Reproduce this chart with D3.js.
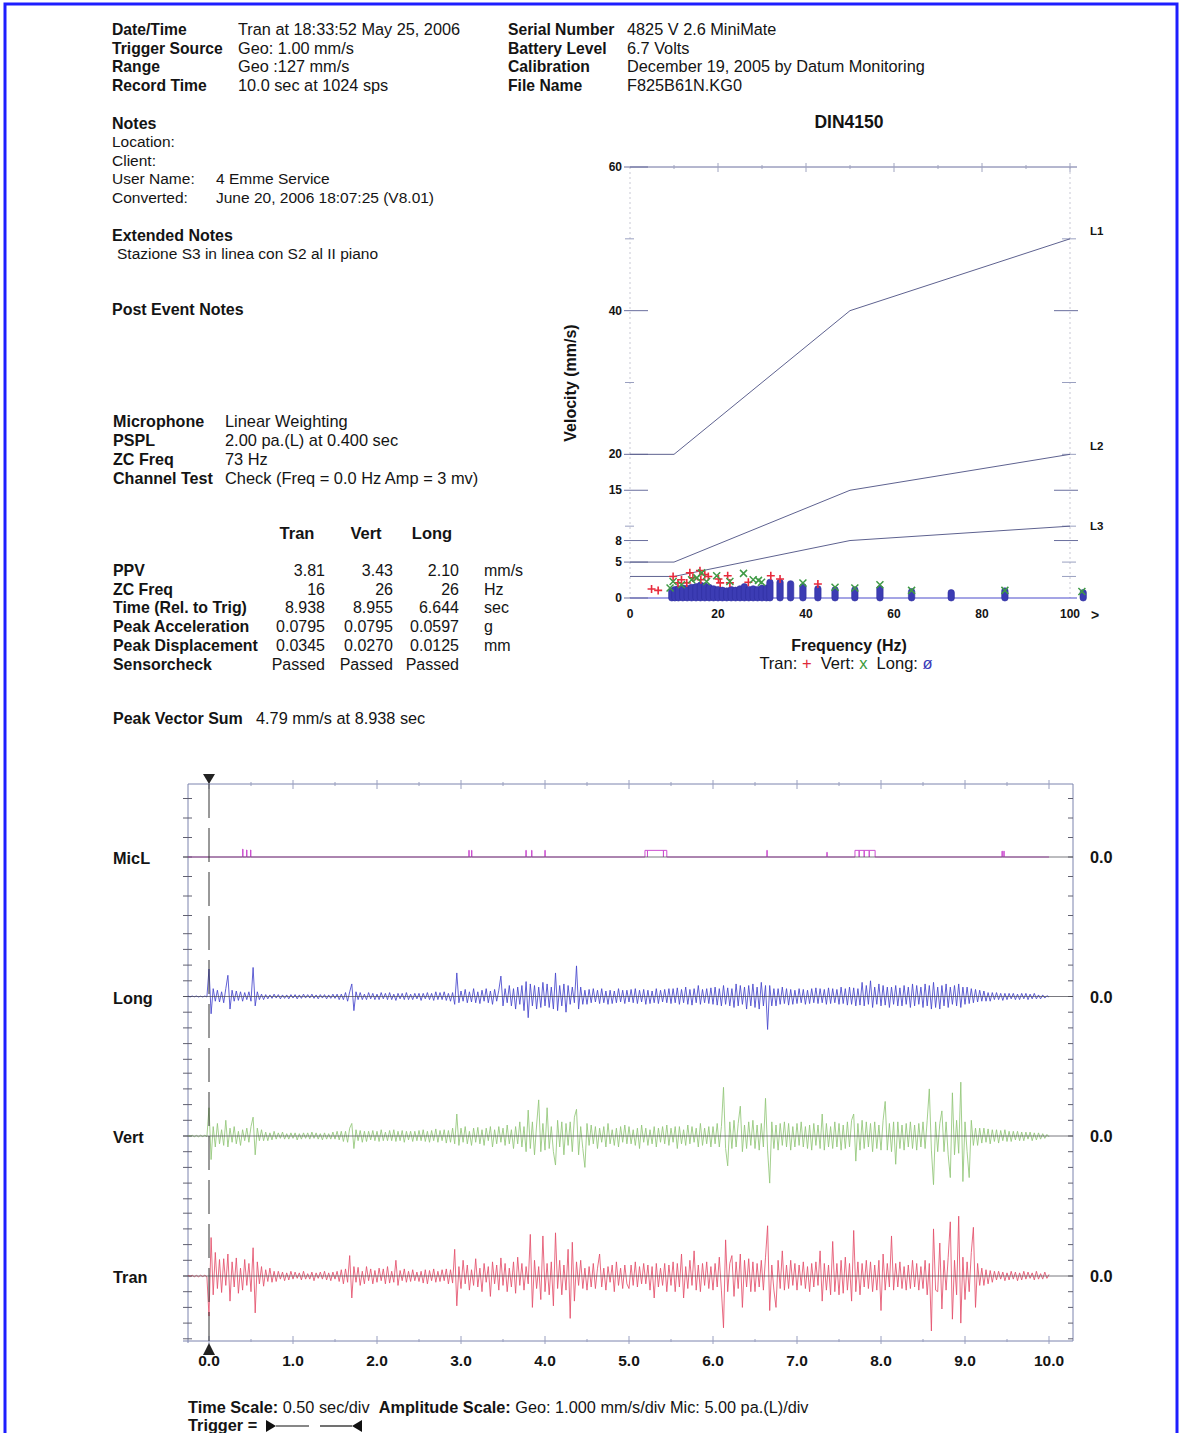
<!DOCTYPE html>
<html><head><meta charset="utf-8">
<script src="https://cdn.jsdelivr.net/npm/d3@7"></script>
<style>
body{margin:0;background:#fff}
svg{display:block}
text{font-family:"Liberation Sans",Arial,sans-serif}
</style>
</head><body>
<svg id="c" width="1180" height="1433"></svg>
<script>
// ---------------- DATA ----------------
const headerLeft = [
  ["Date/Time","Tran at 18:33:52 May 25, 2006"],
  ["Trigger Source","Geo: 1.00 mm/s"],
  ["Range","Geo :127 mm/s"],
  ["Record Time","10.0 sec at 1024 sps"]];
const headerRight = [
  ["Serial Number","4825 V 2.6 MiniMate"],
  ["Battery Level","6.7 Volts"],
  ["Calibration","December 19, 2005 by Datum Monitoring"],
  ["File Name","F825B61N.KG0"]];
const notesRows = [["Location:",""],["Client:",""],["User Name:","4 Emme Service"],["Converted:","June 20, 2006 18:07:25 (V8.01)"]];
const extendedNote = "Stazione S3 in linea con S2 al II piano";
const micInfo = [["Microphone","Linear Weighting"],["PSPL","2.00 pa.(L) at 0.400 sec"],["ZC Freq","73 Hz"],["Channel Test","Check (Freq = 0.0 Hz Amp = 3 mv)"]];
const statChannels = ["Tran","Vert","Long"];
const statRows = [
  ["PPV",["3.81","3.43","2.10"],"mm/s"],
  ["ZC Freq",["16","26","26"],"Hz"],
  ["Time (Rel. to Trig)",["8.938","8.955","6.644"],"sec"],
  ["Peak Acceleration",["0.0795","0.0795","0.0597"],"g"],
  ["Peak Displacement",["0.0345","0.0270","0.0125"],"mm"],
  ["Sensorcheck",["Passed","Passed","Passed"],""]];
const peakVectorSum = "4.79 mm/s at 8.938 sec";

// DIN4150 chart
const dinYLabels = [0,5,8,15,20,40,60];
const dinYMinor = [10,30,50];
const dinXLabels = [0,20,40,60,80,100];
const dinL1 = [[0,20],[10,20],[50,40],[100,50]];
const dinL2 = [[0,5],[10,5],[50,15],[100,20]];
const dinL3 = [[0,3],[10,3],[50,8],[100,10]];
const tranPts = [[4.9,1.25],[6.4,1.06],[9.8,3.0],[10.9,2.1],[11.7,2.55],[12.9,2.1],[13.6,3.5],[14.3,2.8],[15.9,3.81],[16.1,2.55],[17.0,3.25],[17.8,3.0],[20.1,2.65],[20.5,2.1],[22.2,3.1],[22.7,2.1],[26.9,2.2],[32.0,3.1],[34.1,2.65],[42.7,1.95]];
const vertPts = [[9.1,1.4],[9.8,2.3],[11.7,1.85],[14.0,2.55],[15.2,2.8],[16.3,3.5],[17.4,2.3],[19.7,3.1],[22.7,2.3],[25.8,3.43],[28.0,2.55],[29.2,2.45],[29.9,2.2],[39.3,2.1],[46.6,1.5],[51.1,1.4],[56.8,1.85],[64.0,1.06],[85.2,1.06],[102.7,0.9]];
const longCols = [[9.5,1.0],[10.2,1.2],[11,1.3],[12,1.4],[13,1.35],[14,1.5],[15,1.6],[16,1.8],[17,1.7],[18,1.5],[19,1.3],[20,1.2],[21,1.1],[22,1.0],[23,1.2],[24,1.1],[25,1.3],[26,1.6],[27,1.2],[28,1.3],[29,1.2],[30,1.4],[31,1.4],
  [31.8,2.2],[34.1,2.2],[36.5,2.0],[39.3,1.6],[42.7,1.3],[46.6,1.15],[51.1,1.15],[56.8,1.3],[64.0,0.9],[73.0,0.75],[85.2,1.0],[103.0,0.75]];

// Waveforms (mm/s), one sample every 0.025 s starting at -0.25 s
const waveT0 = -0.25, waveDt = 0.025;
const timeLabels = [0,1,2,3,4,5,6,7,8,9,10];
const tranWave = [
 0.05,-0.04,0.05,-0.05,0.04,-0.05,0.05,-0.04,0.05,-0.05,
 -2.55,2.45,-1.2,1.5,-0.8,1.05,-1.05,1.1,-0.6,1.4,-1.6,0.9,-0.7,1.15,-1.1,0.5,-0.9,1.05,-0.6,0.8,
 -1.0,1.8,-2.35,0.9,-0.5,0.6,-0.65,0.4,-0.35,0.5,-0.4,0.3,-0.35,0.3,-0.2,0.25,-0.3,0.2,-0.25,0.3,
 -0.2,0.25,-0.15,0.2,-0.25,0.3,-0.2,0.15,-0.2,0.25,-0.3,0.2,-0.15,0.25,-0.2,0.3,-0.25,0.2,-0.3,0.25,
 -0.2,0.3,-0.35,0.4,-0.5,0.45,-0.4,1.3,-1.4,0.6,-0.4,0.55,-0.6,0.3,-0.5,0.6,-0.3,0.45,-0.5,0.35,
 -0.4,0.5,-0.3,0.45,-0.5,0.6,-0.45,0.3,-0.4,1.0,-0.6,0.35,-0.3,0.45,-0.4,0.3,-0.35,0.4,-0.3,0.25,
 -0.35,0.3,-0.45,0.4,-0.5,0.35,-0.3,0.45,-0.4,0.3,-0.35,0.4,-0.3,0.45,-0.5,0.4,-0.45,1.7,-1.9,0.6,
 -0.8,1.0,-0.5,0.7,-0.9,0.4,-0.6,1.1,-0.7,0.5,-1.0,0.8,-0.4,0.6,-1.3,0.9,-0.5,0.7,-0.9,1.15,
 -0.6,0.8,-1.0,0.5,-0.7,0.9,-1.1,1.2,-0.6,0.8,-0.9,0.6,-0.5,2.65,-2.0,1.0,-0.8,0.6,-1.5,2.55,
 -1.0,0.8,-1.2,0.9,-1.9,2.75,-0.8,1.0,-1.2,0.7,-0.9,1.7,-2.7,2.15,-1.6,0.9,-0.6,1.0,-0.8,0.5,
 -0.9,0.6,-0.7,0.8,-0.8,0.5,1.4,-0.7,0.5,-0.9,0.6,-0.4,0.7,-1.0,0.9,-0.6,0.5,-0.8,0.7,-0.5,
 -0.8,0.7,-0.6,0.9,-0.7,0.6,-0.5,0.8,-0.5,0.7,-0.9,0.6,-1.4,0.8,-0.7,0.5,-0.6,0.8,-1.0,0.7,
 -0.6,0.9,-1.0,0.8,-0.7,1.4,-1.4,0.6,-0.8,1.0,-0.6,1.6,-0.9,0.7,-1.0,0.8,-0.6,0.9,-0.8,0.6,
 -0.9,0.8,-0.7,1.2,-0.9,-3.3,2.3,-1.0,0.8,1.3,-1.3,0.9,-0.8,1.4,-2.0,1.0,-0.7,1.1,-1.0,0.9,
 -1.0,0.8,-0.7,1.0,-0.9,1.2,3.2,-2.2,0.7,-0.9,-2.0,1.0,-0.8,1.6,-0.9,0.7,-0.8,1.0,-0.6,0.8,
 -0.9,0.7,-0.6,0.9,-0.8,0.6,-1.0,0.8,-0.7,0.9,-0.6,1.6,-1.6,0.8,-0.9,0.7,-1.2,2.2,-1.0,0.8,
 -1.2,1.0,-1.1,1.2,-0.9,0.8,-1.6,2.9,-1.0,0.9,-1.2,0.8,-0.7,1.0,-0.8,0.9,-1.0,0.7,-0.9,1.0,
 -2.2,1.4,-0.9,0.8,-0.7,2.55,-0.9,0.8,-0.7,0.9,-0.8,0.6,-0.9,0.7,-0.8,1.0,-0.7,0.8,-0.9,0.6,
 -0.8,1.0,-1.2,0.8,-3.5,3.0,-0.9,-1.0,2.1,-2.1,1.0,-0.9,1.2,3.45,-2.75,1.0,-1.2,3.81,-3.0,1.2,
 -1.5,0.9,-1.0,1.5,3.1,-2.0,0.8,-0.6,0.5,-0.6,0.4,-0.5,0.35,-0.4,0.3,-0.25,0.3,-0.2,0.25,-0.3,
 0.2,-0.25,0.3,-0.2,0.25,-0.3,0.2,-0.25,0.3,-0.2,0.25,-0.15,0.2,-0.25,0.3,-0.2,0.15,-0.2,0.25,-0.15,0.1];
const vertWave = [
 0.05,-0.04,0.05,-0.05,0.04,-0.05,0.05,-0.04,0.05,-0.05,
 1.8,-1.5,0.6,-0.7,0.8,-0.5,0.4,-0.6,1.0,-0.7,0.5,-0.4,0.6,-0.5,0.3,-0.6,0.4,-0.3,0.5,-0.4,
 0.6,1.2,-1.2,0.5,-0.3,0.4,-0.3,0.25,-0.3,0.2,-0.25,0.3,-0.2,0.2,-0.15,0.25,-0.2,0.15,-0.2,0.2,
 -0.15,0.2,-0.25,0.15,-0.2,0.2,-0.15,0.2,-0.2,0.25,-0.15,0.2,-0.2,0.15,-0.25,0.2,-0.2,0.15,-0.2,0.25,
 -0.2,0.3,-0.25,0.3,-0.35,0.3,-0.4,0.5,0.8,-0.8,0.4,-0.3,0.35,-0.4,0.3,-0.35,0.3,-0.25,0.35,-0.3,
 0.3,-0.35,0.4,-0.3,0.25,-0.3,0.35,-0.3,0.4,-0.35,0.3,-0.3,0.35,-0.4,0.3,-0.25,0.3,-0.35,0.3,-0.3,
 0.35,-0.3,0.4,-0.35,0.3,-0.4,0.35,-0.3,0.45,-0.4,0.35,-0.3,0.4,-0.45,0.35,-0.4,0.5,-0.5,1.4,-0.6,
 0.5,-0.4,0.6,-0.5,0.3,-0.6,0.5,-0.4,0.55,-0.5,0.4,-0.6,0.5,-0.3,0.6,-0.7,0.4,-0.5,0.6,-0.4,
 0.5,-0.6,0.7,-0.5,0.4,-0.8,0.6,-0.5,0.9,-0.7,0.6,-1.0,1.65,-0.8,0.9,-1.2,0.7,2.3,-1.0,0.8,
 -0.9,1.8,-0.8,0.6,-1.0,-1.85,1.0,-0.7,0.9,-1.2,0.8,-0.6,0.9,-1.0,1.2,1.7,-1.2,0.6,-0.8,-2.0,
 0.8,-0.6,0.7,-0.5,0.6,-0.8,0.5,-0.4,0.6,-0.7,0.8,-0.5,0.4,-0.6,0.5,-0.7,0.6,-0.4,0.7,-0.5,
 0.6,-0.5,0.4,-0.6,0.5,-0.8,0.7,-0.4,0.5,-0.6,0.4,-0.5,0.6,-0.7,0.5,-0.4,0.6,-0.5,0.7,-0.6,
 0.5,-0.4,0.6,-0.8,0.6,-0.5,0.4,-0.6,0.7,-0.5,0.6,-0.4,0.5,-0.7,0.8,-0.6,0.5,-0.5,0.6,-0.7,
 0.6,-0.5,0.8,-0.7,0.6,3.1,-0.8,-1.9,0.9,-0.8,1.0,-0.7,0.8,1.9,-1.0,0.7,-0.8,0.9,-0.6,1.0,
 -0.8,0.7,-0.9,0.8,-0.7,2.4,-0.9,-3.0,0.9,-0.8,0.7,-0.9,0.8,-0.6,0.9,-0.7,0.8,-0.9,0.6,-0.7,
 0.8,-0.6,0.9,-0.7,0.6,-0.8,0.7,-0.9,0.8,-0.6,0.7,-0.8,1.4,-0.9,0.8,-0.7,0.6,-0.8,0.9,-0.7,
 0.8,-0.9,0.7,-0.8,0.9,-0.7,1.0,1.4,-1.6,0.8,-0.9,1.0,-0.8,0.9,-0.7,0.8,-1.0,0.9,-0.8,0.7,
 -0.9,1.0,2.2,-0.9,0.8,-1.0,0.9,-1.8,0.9,-0.8,0.7,-0.9,0.8,-0.7,0.9,-0.8,0.7,-0.9,0.8,-0.7,
 0.9,-0.8,1.0,3.0,-0.9,-3.1,0.9,-1.0,0.8,1.6,-1.0,0.9,-1.2,-2.65,2.75,-1.2,1.0,-1.1,3.43,-2.9,
 0.9,-1.0,-2.65,1.0,-0.6,0.5,-0.6,0.5,-0.45,0.5,-0.4,0.45,-0.5,0.4,-0.35,0.4,-0.45,0.35,-0.3,0.4,
 -0.35,0.3,-0.35,0.3,-0.25,0.3,-0.3,0.25,-0.3,0.25,-0.2,0.25,-0.3,0.2,-0.25,0.2,-0.2,0.15,-0.15,0.1,-0.05];
const longWave = [
 0.03,-0.03,0.03,-0.02,0.03,-0.03,0.02,-0.03,0.03,-0.03,
 1.75,-1.1,0.5,-0.3,0.4,-0.35,0.3,-0.4,0.5,1.35,-0.8,0.4,-0.3,0.35,-0.25,0.3,-0.3,0.25,-0.2,0.3,
 -0.3,1.85,-0.6,0.3,-0.2,0.15,-0.2,0.12,-0.15,0.1,-0.12,0.15,-0.1,0.12,-0.15,0.1,-0.12,0.1,-0.15,0.12,
 -0.1,0.12,-0.15,0.1,-0.12,0.15,-0.1,0.12,-0.1,0.15,-0.12,0.1,-0.15,0.12,-0.1,0.12,-0.15,0.1,-0.12,0.15,
 -0.12,0.15,-0.2,0.15,-0.2,0.25,-0.3,0.3,0.8,-0.9,0.3,-0.2,0.25,-0.2,0.15,-0.2,0.25,-0.15,0.2,-0.2,
 0.15,-0.2,0.25,-0.15,0.2,-0.2,0.25,-0.2,0.15,-0.25,0.2,-0.15,0.2,-0.2,0.25,-0.2,0.15,-0.2,0.2,-0.15,
 0.2,-0.25,0.2,-0.15,0.25,-0.2,0.2,-0.25,0.3,-0.2,0.25,-0.2,0.3,-0.25,0.2,-0.3,0.25,-0.5,1.5,-0.4,
 0.35,-0.3,0.45,-0.4,0.3,-0.35,0.5,-0.4,0.3,-0.45,0.4,-0.3,0.5,-0.4,0.35,-0.5,0.45,-0.3,0.4,1.3,
 -0.6,0.5,-0.4,0.7,-0.6,0.5,-0.8,0.6,-0.5,0.7,-0.9,0.95,-1.35,0.8,-0.6,0.7,-0.8,0.6,-0.7,0.9,
 -0.6,0.8,-0.7,0.6,-0.8,1.5,-0.9,0.7,-0.6,0.8,-1.0,0.7,-0.5,0.6,-0.4,1.95,-0.8,0.6,-0.5,0.4,
 -0.5,0.45,-0.4,0.5,-0.35,0.4,-0.45,0.5,-0.4,0.35,-0.5,0.4,-0.45,0.35,-0.4,0.5,-0.35,0.4,-0.45,0.4,
 -0.35,0.45,-0.4,0.5,-0.45,0.4,-0.35,0.45,-0.5,0.4,-0.45,0.35,-0.4,0.5,-0.45,0.4,-0.35,0.45,-0.4,0.5,
 -0.45,0.5,-0.4,0.55,-0.5,0.45,-0.4,0.6,-0.5,0.45,-0.55,0.5,-0.4,0.7,-0.5,0.45,-0.4,0.5,-0.45,0.55,
 -0.5,0.6,-0.55,0.5,-0.6,0.7,-0.5,0.55,-0.6,0.5,-0.7,0.8,-0.6,0.7,-0.5,0.6,-0.8,0.7,-0.6,0.8,
 -0.7,0.6,-0.8,0.9,-0.6,0.7,-2.1,0.7,-0.6,0.5,-0.6,0.5,-0.5,0.6,-0.45,0.5,-0.55,0.45,-0.5,0.4,
 -0.45,0.5,-0.4,0.45,-0.5,0.4,-0.45,0.5,-0.4,0.55,-0.45,0.5,-0.4,0.45,-0.5,0.55,-0.45,0.5,-0.4,0.45,
 -0.5,0.6,-0.45,0.5,-0.55,0.6,-0.5,0.55,-0.6,0.5,-0.55,0.9,-0.6,0.7,-0.5,1.0,-0.7,0.6,-0.5,0.8,
 -0.6,0.7,-0.55,0.6,-0.7,0.6,-0.5,0.7,-0.6,0.55,-0.6,0.7,-0.5,0.6,-0.7,0.8,-0.6,0.7,-0.5,0.6,
 -0.7,0.8,-0.6,0.7,-0.8,0.9,-0.7,0.6,-0.8,0.7,-0.6,0.8,-0.7,0.6,-0.5,0.7,-0.6,0.8,-0.7,0.6,
 -0.5,0.6,-0.45,0.5,-0.4,0.45,-0.35,0.4,-0.3,0.35,-0.3,0.25,-0.3,0.25,-0.2,0.25,-0.2,0.2,-0.25,0.2,
 -0.2,0.2,-0.15,0.2,-0.2,0.15,-0.2,0.2,-0.15,0.2,-0.2,0.15,-0.15,0.2,-0.15,0.1,-0.15,0.1,-0.1,0.05,-0.03];
// microphone pulses: [start s, end s, pa]
const micPulses = [[0.40,0.405,2.0],[0.447,0.452,1.8],[0.494,0.499,1.8],[3.093,3.098,1.7],[3.125,3.13,1.7],
  [3.772,3.777,1.7],[3.84,3.845,1.7],[3.998,4.003,1.7],
  [5.19,5.22,1.7],[5.22,5.41,1.7],[5.41,5.45,1.7],[6.641,6.646,1.7],[7.355,7.36,1.2],
  [7.69,7.74,1.7],[7.74,7.80,1.7],[7.80,7.86,1.7],[7.86,7.93,1.7],[9.44,9.445,1.5],[9.462,9.467,1.5]];

// ---------------- DRAW ----------------
const svg = d3.select("#c");
function txt(g,x,y,s,o={}){
  return g.append("text").attr("x",x).attr("y",y).text(s)
    .attr("font-size",o.size||16).attr("font-weight",o.bold?"bold":"normal")
    .attr("text-anchor",o.anchor||"start").attr("fill",o.fill||"#141414");
}
svg.append("rect").attr("x",5).attr("y",4).attr("width",1172).attr("height",1445)
  .attr("fill","none").attr("stroke","#1e1eff").attr("stroke-width",3);

// header
headerLeft.forEach((d,i)=>{txt(svg,112,35+i*18.7,d[0],{bold:true,size:15.7});txt(svg,238,35+i*18.7,d[1],{size:16.3});});
headerRight.forEach((d,i)=>{txt(svg,508,35+i*18.7,d[0],{bold:true,size:15.7});txt(svg,627,35+i*18.7,d[1],{size:16.3});});
txt(svg,112,129,"Notes",{bold:true});
notesRows.forEach((d,i)=>{txt(svg,112,147+i*18.7,d[0],{size:15.5});txt(svg,216,147+i*18.7,d[1],{size:15.5});});
txt(svg,112,241,"Extended Notes",{bold:true});
txt(svg,117,259,extendedNote,{size:15.5});
txt(svg,112,315,"Post Event Notes",{bold:true});
micInfo.forEach((d,i)=>{txt(svg,113,427+i*18.9,d[0],{bold:true,size:16.1});txt(svg,225,427+i*18.9,d[1],{size:16.4});});
const colC=[297,366,432], colR=[325,393,459];
statChannels.forEach((c,i)=>txt(svg,colC[i],539,c,{bold:true,anchor:"middle",size:16.5}));
statRows.forEach((r,i)=>{
  const yy=576+i*18.7;
  txt(svg,113,yy,r[0],{bold:true,size:15.9});
  r[1].forEach((v,j)=>txt(svg,colR[j],yy,v,{anchor:"end",size:16}));
  txt(svg,484,yy,r[2],{size:16});
});
txt(svg,113,724,"Peak Vector Sum",{bold:true,size:16});
txt(svg,256,724,peakVectorSum,{size:16.3});

// ---------- DIN4150 chart ----------
const din = svg.append("g");
const dx = d3.scaleLinear().domain([0,100]).range([630,1070]);
const dy = d3.scaleLinear().domain([0,60]).range([598,167]);
const axisCol="#6a6f9e";
txt(din,849,128,"DIN4150",{bold:true,size:17.5,anchor:"middle"});
[0,100].forEach(v=>din.append("line").attr("x1",dx(v)).attr("x2",dx(v)).attr("y1",dy(60)).attr("y2",dy(0))
  .attr("stroke","#c8c8d4").attr("stroke-dasharray","2,3"));
din.append("line").attr("x1",dx(0)).attr("x2",dx(100)+7).attr("y1",dy(60)).attr("y2",dy(60)).attr("stroke",axisCol);
d3.range(10,101,10).forEach(v=>din.append("line").attr("x1",dx(v)).attr("x2",dx(v))
  .attr("y1",dy(60)-(v%20===0?4:2)).attr("y2",dy(60)+(v%20===0?5:2)).attr("stroke","#a0a4c0"));
din.append("line").attr("x1",dx(0)).attr("x2",dx(100)+7).attr("y1",dy(0)).attr("y2",dy(0)).attr("stroke","#4a4acb");
dinYLabels.forEach(v=>{
  txt(din,622,dy(v)+4,v,{bold:true,size:12,anchor:"end"});
  din.append("line").attr("x1",624).attr("x2",648).attr("y1",dy(v)).attr("y2",dy(v)).attr("stroke",axisCol);
});
dinYMinor.forEach(v=>din.append("line").attr("x1",625).attr("x2",634).attr("y1",dy(v)).attr("y2",dy(v)).attr("stroke","#9aa0c0"));
[40,15,8].forEach(v=>din.append("line").attr("x1",dx(100)-16).attr("x2",dx(100)+8).attr("y1",dy(v)).attr("y2",dy(v)).attr("stroke",axisCol));
[50,30,20,10,5,3].forEach(v=>din.append("line").attr("x1",dx(100)-8).attr("x2",dx(100)+6).attr("y1",dy(v)).attr("y2",dy(v)).attr("stroke","#9aa0c0"));
dinXLabels.forEach(v=>txt(din,dx(v),618,v,{bold:true,size:12,anchor:"middle"}));
txt(din,1095,620,">",{bold:true,size:14,anchor:"middle"});
const dline=d3.line().x(d=>dx(d[0])).y(d=>dy(d[1]));
[[dinL1,"L1",-4],[dinL2,"L2",-4],[dinL3,"L3",4]].forEach(([L,n,off])=>{
  din.append("path").attr("d",dline(L)).attr("fill","none").attr("stroke","#5e6290").attr("stroke-width",1);
  txt(din,1090,dy(L[L.length-1][1])+off,n,{bold:true,size:11.5});
});
txt(din,0,0,"Velocity (mm/s)",{bold:true,size:16,anchor:"middle"}).attr("transform","translate(576,383) rotate(-90)");
txt(din,849,651,"Frequency (Hz)",{bold:true,size:16,anchor:"middle"});
const lg = din.append("text").attr("x",846).attr("y",669).attr("text-anchor","middle").attr("font-size",16.5).attr("fill","#141414")
  .attr("xml:space","preserve");
lg.append("tspan").text("Tran: ");lg.append("tspan").text("+").attr("fill","#e02838");
lg.append("tspan").text("  Vert: ");lg.append("tspan").text("x").attr("fill","#3a9a3a");
lg.append("tspan").text("  Long: ");lg.append("tspan").text("ø").attr("fill","#3a3ab8");
din.selectAll(".lc").data(longCols).enter().append("rect")
  .attr("x",d=>dx(d[0])-3.2).attr("width",6.4).attr("y",d=>dy(d[1])-3).attr("height",d=>dy(0)-dy(d[1])+6)
  .attr("rx",3).attr("fill","#3c3cb4").attr("stroke","#2e2e9e").attr("stroke-width",0.6);
din.selectAll(".tp").data(tranPts).enter().append("path")
  .attr("d",d=>{const X=dx(d[0]),Y=dy(d[1]);return `M${X-4},${Y}H${X+4}M${X},${Y-4}V${Y+4}`;})
  .attr("stroke","#e82a3c").attr("stroke-width",1.6).attr("fill","none");
din.selectAll(".vp").data(vertPts).enter().append("path")
  .attr("d",d=>{const X=dx(d[0]),Y=dy(d[1]);return `M${X-3.5},${Y-3.5}L${X+3.5},${Y+3.5}M${X-3.5},${Y+3.5}L${X+3.5},${Y-3.5}`;})
  .attr("stroke","#3f9a45").attr("stroke-width",1.5).attr("fill","none");

// ---------- Waveform panel ----------
const wp = svg.append("g");
const tx = d3.scaleLinear().domain([0,10]).range([209,1049]);
const L=188,R=1073,T=784,B=1341;
const frameCol="#7c84ae";
wp.append("line").attr("x1",L).attr("x2",R).attr("y1",T).attr("y2",T).attr("stroke",frameCol);
wp.append("line").attr("x1",183).attr("x2",R).attr("y1",B).attr("y2",B).attr("stroke",frameCol);
wp.append("line").attr("x1",L).attr("x2",L).attr("y1",T).attr("y2",B+2).attr("stroke",frameCol);
wp.append("line").attr("x1",R).attr("x2",R).attr("y1",T).attr("y2",B).attr("stroke",frameCol);
d3.range(0,10.01,0.5).forEach(t=>{
  const big = Math.abs(t-Math.round(t))<1e-6;
  wp.append("line").attr("x1",tx(t)).attr("x2",tx(t)).attr("y1",T-(big?4:2)).attr("y2",T+(big?5:2)).attr("stroke","#9aa0c0");
  wp.append("line").attr("x1",tx(t)).attr("x2",tx(t)).attr("y1",B-(big?5:2)).attr("y2",B+(big?3:1)).attr("stroke","#9aa0c0");
});
timeLabels.forEach(t=>txt(wp,tx(t),1366,t.toFixed(1),{bold:true,size:15.5,anchor:"middle"}));

const chans = [
  {name:"MicL",zero:857,div:19.5,per:5,nDiv:3,color:"#cc4fd0"},
  {name:"Long",zero:996.5,div:15.7,per:1,nDiv:4,data:longWave,color:"#4646cc"},
  {name:"Vert",zero:1136,div:15.7,per:1,nDiv:4,data:vertWave,color:"#92c678"},
  {name:"Tran",zero:1276,div:15.7,per:1,nDiv:4,data:tranWave,color:"#e4506c"}];
chans.forEach(c=>{
  const ys = d3.scaleLinear().domain([-c.per,c.per]).range([c.zero+c.div,c.zero-c.div]);
  d3.range(-c.nDiv,c.nDiv+1).forEach(k=>{
    const yy=ys(k*c.per);
    wp.append("line").attr("x1",183).attr("x2",192).attr("y1",yy).attr("y2",yy).attr("stroke","#606070");
    wp.append("line").attr("x1",R-5).attr("x2",R).attr("y1",yy).attr("y2",yy).attr("stroke","#606070");
  });
  txt(wp,113,c.zero+7,c.name,{bold:true,size:16.3});
  txt(wp,1090,c.zero+6,"0.0",{bold:true,size:16.3});
  if(c.data){
    const line=d3.line().x((d,i)=>tx(waveT0+i*waveDt)).y(d=>ys(d));
    wp.append("path").attr("d",line(c.data)).attr("fill","none").attr("stroke",c.color).attr("stroke-width",0.85);
  } else {
    const pts=[[waveT0,0]];
    micPulses.forEach(p=>{pts.push([p[0],0],[p[0],p[2]],[p[1],p[2]],[p[1],0]);});
    pts.push([10.0,0]);
    const ml=d3.line().x(d=>tx(d[0])).y(d=>ys(d[1]));
    wp.append("path").attr("d",ml(pts)).attr("fill","none").attr("stroke",c.color).attr("stroke-width",1);
  }
  wp.append("line").attr("x1",183).attr("x2",R).attr("y1",c.zero).attr("y2",c.zero).attr("stroke","#505058").attr("stroke-width",0.9).attr("opacity",0.85);
});
wp.append("line").attr("x1",tx(0)).attr("x2",tx(0)).attr("y1",T).attr("y2",B).attr("stroke","#333").attr("stroke-dasharray","34,10");
wp.append("path").attr("d",`M${tx(0)-6},${T-10}L${tx(0)+6},${T-10}L${tx(0)},${T}Z`).attr("fill","#222");
wp.append("path").attr("d",`M${tx(0)-6},${B+14}L${tx(0)+6},${B+14}L${tx(0)},${B+2}Z`).attr("fill","#222");

// footer
const f1 = wp.append("text").attr("x",188).attr("y",1413).attr("font-size",16.3).attr("fill","#141414").attr("xml:space","preserve");
f1.append("tspan").text("Time Scale: ").attr("font-weight","bold");
f1.append("tspan").text("0.50 sec/div  ");
f1.append("tspan").text("Amplitude Scale: ").attr("font-weight","bold");
f1.append("tspan").text("Geo: 1.000 mm/s/div Mic: 5.00 pa.(L)/div");
txt(wp,188,1431,"Trigger =",{bold:true,size:16.3});
wp.append("path").attr("d","M266,1420L266,1432L276,1426Z").attr("fill","#111");
wp.append("line").attr("x1",276).attr("x2",309).attr("y1",1426).attr("y2",1426).attr("stroke","#111").attr("stroke-width",1.2);
wp.append("line").attr("x1",320).attr("x2",352).attr("y1",1426).attr("y2",1426).attr("stroke","#111").attr("stroke-width",1.2);
wp.append("path").attr("d","M362,1420L362,1432L352,1426Z").attr("fill","#111");
</script>
</body></html>
